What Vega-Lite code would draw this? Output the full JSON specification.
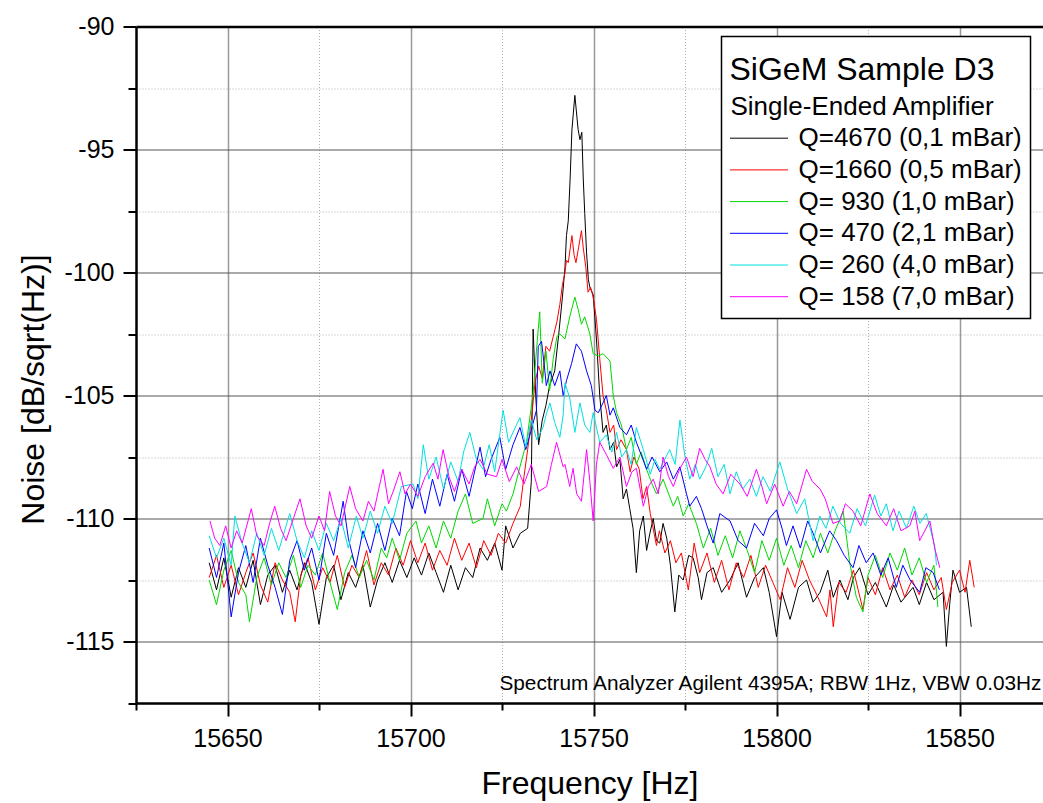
{
"$schema":"https://vega.github.io/schema/vega-lite/v6.json",
"width":907,"height":676.5,
"autosize":{"type":"none"},
"padding":{"left":136,"top":26.5,"right":0,"bottom":100},
"config":{"view":{"stroke":null},"font":"Liberation Sans","axis":{"labelFont":"Liberation Sans","titleFont":"Liberation Sans"},"legend":{"labelFont":"Liberation Sans","titleFont":"Liberation Sans"}},
"layer":[
{
"data":{"values":[
{"s":1,"f":15645,"v":-111.8},{"s":1,"f":15647,"v":-112.9},{"s":1,"f":15649,"v":-111.6},{"s":1,"f":15651,"v":-113.2},{"s":1,"f":15653,"v":-112.0},{"s":1,"f":15655,"v":-112.8},{"s":1,"f":15657,"v":-111.7},{"s":1,"f":15659,"v":-113.5},{"s":1,"f":15661,"v":-112.3},{"s":1,"f":15663,"v":-111.9},{"s":1,"f":15665,"v":-113.0},{"s":1,"f":15667,"v":-112.1},{"s":1,"f":15669,"v":-112.9},{"s":1,"f":15671,"v":-111.8},{"s":1,"f":15673,"v":-112.6},{"s":1,"f":15675,"v":-114.3},{"s":1,"f":15677,"v":-112.4},{"s":1,"f":15679,"v":-111.9},{"s":1,"f":15681,"v":-113.3},{"s":1,"f":15683,"v":-112.2},{"s":1,"f":15685,"v":-112.8},{"s":1,"f":15687,"v":-111.9},{"s":1,"f":15689,"v":-113.6},{"s":1,"f":15691,"v":-112.5},{"s":1,"f":15693,"v":-111.8},{"s":1,"f":15695,"v":-112.6},{"s":1,"f":15697,"v":-111.7},{"s":1,"f":15699,"v":-112.4},{"s":1,"f":15701,"v":-111.6},{"s":1,"f":15703,"v":-112.3},{"s":1,"f":15705,"v":-111.4},{"s":1,"f":15707,"v":-112.2},{"s":1,"f":15709,"v":-113.0},{"s":1,"f":15711,"v":-111.9},{"s":1,"f":15713,"v":-112.9},{"s":1,"f":15715,"v":-112.0},{"s":1,"f":15717,"v":-112.4},{"s":1,"f":15719,"v":-111.2},{"s":1,"f":15721,"v":-111.7},{"s":1,"f":15723,"v":-111.0},{"s":1,"f":15725,"v":-112.1},{"s":1,"f":15726,"v":-110.3},{"s":1,"f":15728,"v":-111.2},{"s":1,"f":15730,"v":-110.6},{"s":1,"f":15732,"v":-110.4},{"s":1,"f":15733,"v":-108.5},{"s":1,"f":15733.5,"v":-102.3},{"s":1,"f":15734.2,"v":-105.0},{"s":1,"f":15735,"v":-107.0},{"s":1,"f":15736,"v":-106.0},{"s":1,"f":15737,"v":-105.4},{"s":1,"f":15738,"v":-104.6},{"s":1,"f":15739.4,"v":-104.0},{"s":1,"f":15740.5,"v":-102.5},{"s":1,"f":15741.5,"v":-101.0},{"s":1,"f":15742.2,"v":-99.8},{"s":1,"f":15742.6,"v":-98.5},{"s":1,"f":15743.1,"v":-97.9},{"s":1,"f":15743.6,"v":-96.2},{"s":1,"f":15744.1,"v":-94.2},{"s":1,"f":15744.9,"v":-92.8},{"s":1,"f":15745.8,"v":-94.2},{"s":1,"f":15746.3,"v":-94.6},{"s":1,"f":15746.8,"v":-94.3},{"s":1,"f":15747.2,"v":-96.2},{"s":1,"f":15747.6,"v":-97.6},{"s":1,"f":15748.1,"v":-99.2},{"s":1,"f":15748.6,"v":-100.3},{"s":1,"f":15749,"v":-100.6},{"s":1,"f":15749.9,"v":-100.9},{"s":1,"f":15750.8,"v":-102.7},{"s":1,"f":15751.7,"v":-105.0},{"s":1,"f":15752.6,"v":-106.5},{"s":1,"f":15753.5,"v":-106.2},{"s":1,"f":15754.5,"v":-107.2},{"s":1,"f":15755.5,"v":-106.9},{"s":1,"f":15756.3,"v":-107.9},{"s":1,"f":15757.2,"v":-107.6},{"s":1,"f":15758.1,"v":-109.2},{"s":1,"f":15759,"v":-108.8},{"s":1,"f":15759.9,"v":-109.6},{"s":1,"f":15760.8,"v":-110.4},{"s":1,"f":15761.7,"v":-112.2},{"s":1,"f":15762.6,"v":-110.5},{"s":1,"f":15763.6,"v":-109.9},{"s":1,"f":15764.5,"v":-111.3},{"s":1,"f":15765.4,"v":-110.6},{"s":1,"f":15766.3,"v":-110.0},{"s":1,"f":15767.2,"v":-110.9},{"s":1,"f":15768.1,"v":-111.0},{"s":1,"f":15769,"v":-110.2},{"s":1,"f":15770,"v":-110.8},{"s":1,"f":15771,"v":-111.9},{"s":1,"f":15772.2,"v":-113.8},{"s":1,"f":15773.3,"v":-112.3},{"s":1,"f":15774.5,"v":-112.5},{"s":1,"f":15776,"v":-111.5},{"s":1,"f":15777.2,"v":-111.6},{"s":1,"f":15778.6,"v":-112.4},{"s":1,"f":15779.5,"v":-113.3},{"s":1,"f":15781,"v":-112.2},{"s":1,"f":15782.7,"v":-112.0},{"s":1,"f":15785,"v":-113.0},{"s":1,"f":15787.3,"v":-112.5},{"s":1,"f":15789.5,"v":-111.8},{"s":1,"f":15791.8,"v":-113.2},{"s":1,"f":15794,"v":-112.4},{"s":1,"f":15796.4,"v":-112.0},{"s":1,"f":15798,"v":-113.0},{"s":1,"f":15800,"v":-114.8},{"s":1,"f":15801.5,"v":-113.0},{"s":1,"f":15803.7,"v":-114.1},{"s":1,"f":15806,"v":-112.8},{"s":1,"f":15808.2,"v":-112.5},{"s":1,"f":15810,"v":-113.4},{"s":1,"f":15811.9,"v":-113.0},{"s":1,"f":15814,"v":-112.1},{"s":1,"f":15815.5,"v":-113.2},{"s":1,"f":15817.3,"v":-112.5},{"s":1,"f":15819.5,"v":-113.3},{"s":1,"f":15821,"v":-112.4},{"s":1,"f":15822.7,"v":-112.0},{"s":1,"f":15825,"v":-113.1},{"s":1,"f":15827,"v":-112.6},{"s":1,"f":15830,"v":-113.6},{"s":1,"f":15832,"v":-112.7},{"s":1,"f":15834,"v":-113.4},{"s":1,"f":15837.3,"v":-112.8},{"s":1,"f":15839,"v":-113.5},{"s":1,"f":15841,"v":-112.6},{"s":1,"f":15843,"v":-113.3},{"s":1,"f":15845.5,"v":-113.0},{"s":1,"f":15846.4,"v":-115.2},{"s":1,"f":15847.3,"v":-113.5},{"s":1,"f":15848.2,"v":-112.1},{"s":1,"f":15850,"v":-113.0},{"s":1,"f":15851.9,"v":-112.8},{"s":1,"f":15853.2,"v":-114.4},
{"s":2,"f":15645,"v":-112.4},{"s":2,"f":15647,"v":-111.5},{"s":2,"f":15649,"v":-112.8},{"s":2,"f":15651,"v":-111.9},{"s":2,"f":15653,"v":-113.1},{"s":2,"f":15655,"v":-112.2},{"s":2,"f":15657,"v":-111.4},{"s":2,"f":15659,"v":-112.7},{"s":2,"f":15661,"v":-113.4},{"s":2,"f":15663,"v":-111.8},{"s":2,"f":15665,"v":-112.5},{"s":2,"f":15667,"v":-113.0},{"s":2,"f":15668.5,"v":-114.2},{"s":2,"f":15670,"v":-112.3},{"s":2,"f":15672,"v":-111.6},{"s":2,"f":15674,"v":-112.9},{"s":2,"f":15676,"v":-112.0},{"s":2,"f":15678,"v":-112.6},{"s":2,"f":15680,"v":-111.5},{"s":2,"f":15682,"v":-112.8},{"s":2,"f":15684,"v":-111.9},{"s":2,"f":15686,"v":-112.4},{"s":2,"f":15688,"v":-111.3},{"s":2,"f":15690,"v":-112.7},{"s":2,"f":15692,"v":-111.8},{"s":2,"f":15694,"v":-112.3},{"s":2,"f":15696,"v":-111.2},{"s":2,"f":15698,"v":-111.9},{"s":2,"f":15700,"v":-110.9},{"s":2,"f":15702,"v":-111.8},{"s":2,"f":15704,"v":-111.0},{"s":2,"f":15706,"v":-112.1},{"s":2,"f":15708,"v":-111.3},{"s":2,"f":15710,"v":-111.9},{"s":2,"f":15712,"v":-110.8},{"s":2,"f":15714,"v":-111.7},{"s":2,"f":15716,"v":-111.0},{"s":2,"f":15718,"v":-112.0},{"s":2,"f":15720,"v":-110.9},{"s":2,"f":15722,"v":-111.5},{"s":2,"f":15724,"v":-110.6},{"s":2,"f":15726,"v":-111.0},{"s":2,"f":15728,"v":-110.2},{"s":2,"f":15730,"v":-109.5},{"s":2,"f":15731,"v":-108.3},{"s":2,"f":15732,"v":-107.2},{"s":2,"f":15733,"v":-106.0},{"s":2,"f":15734,"v":-104.5},{"s":2,"f":15735,"v":-103.8},{"s":2,"f":15736,"v":-104.3},{"s":2,"f":15737,"v":-103.0},{"s":2,"f":15738,"v":-103.2},{"s":2,"f":15739,"v":-102.6},{"s":2,"f":15740,"v":-102.0},{"s":2,"f":15740.8,"v":-101.3},{"s":2,"f":15741.5,"v":-100.5},{"s":2,"f":15742.2,"v":-100.0},{"s":2,"f":15742.6,"v":-99.5},{"s":2,"f":15743.1,"v":-99.6},{"s":2,"f":15744.1,"v":-98.5},{"s":2,"f":15744.7,"v":-99.3},{"s":2,"f":15745.2,"v":-99.6},{"s":2,"f":15745.9,"v":-99.0},{"s":2,"f":15746.7,"v":-98.3},{"s":2,"f":15747.2,"v":-99.0},{"s":2,"f":15747.9,"v":-99.8},{"s":2,"f":15748.5,"v":-100.8},{"s":2,"f":15749.2,"v":-100.6},{"s":2,"f":15749.9,"v":-101.0},{"s":2,"f":15750.8,"v":-101.9},{"s":2,"f":15751.7,"v":-103.5},{"s":2,"f":15752.6,"v":-105.0},{"s":2,"f":15753.5,"v":-105.6},{"s":2,"f":15754.5,"v":-106.5},{"s":2,"f":15755.5,"v":-106.2},{"s":2,"f":15756.3,"v":-107.2},{"s":2,"f":15757.5,"v":-106.8},{"s":2,"f":15759,"v":-107.2},{"s":2,"f":15760,"v":-108.1},{"s":2,"f":15761,"v":-107.5},{"s":2,"f":15762.5,"v":-108.0},{"s":2,"f":15763.5,"v":-109.2},{"s":2,"f":15764.5,"v":-108.7},{"s":2,"f":15765.5,"v":-109.8},{"s":2,"f":15767.2,"v":-111.1},{"s":2,"f":15768,"v":-110.5},{"s":2,"f":15769.5,"v":-111.4},{"s":2,"f":15771,"v":-110.9},{"s":2,"f":15772.5,"v":-111.8},{"s":2,"f":15774,"v":-111.4},{"s":2,"f":15775.9,"v":-112.9},{"s":2,"f":15777.5,"v":-111.0},{"s":2,"f":15779,"v":-112.2},{"s":2,"f":15781,"v":-111.4},{"s":2,"f":15783,"v":-112.6},{"s":2,"f":15785,"v":-111.7},{"s":2,"f":15787,"v":-112.9},{"s":2,"f":15789,"v":-111.8},{"s":2,"f":15791,"v":-112.4},{"s":2,"f":15793,"v":-111.5},{"s":2,"f":15795,"v":-112.8},{"s":2,"f":15797,"v":-111.9},{"s":2,"f":15799,"v":-112.6},{"s":2,"f":15801,"v":-113.3},{"s":2,"f":15803,"v":-112.0},{"s":2,"f":15805,"v":-112.8},{"s":2,"f":15807,"v":-111.7},{"s":2,"f":15809,"v":-112.5},{"s":2,"f":15811,"v":-113.1},{"s":2,"f":15813.7,"v":-114.0},{"s":2,"f":15814.6,"v":-112.9},{"s":2,"f":15815.5,"v":-114.4},{"s":2,"f":15817,"v":-112.6},{"s":2,"f":15819,"v":-113.0},{"s":2,"f":15821,"v":-112.1},{"s":2,"f":15823.6,"v":-113.7},{"s":2,"f":15825,"v":-112.4},{"s":2,"f":15827,"v":-113.1},{"s":2,"f":15829,"v":-112.0},{"s":2,"f":15831,"v":-112.9},{"s":2,"f":15833,"v":-112.3},{"s":2,"f":15835,"v":-113.2},{"s":2,"f":15837,"v":-112.5},{"s":2,"f":15839,"v":-113.1},{"s":2,"f":15841,"v":-112.2},{"s":2,"f":15843,"v":-112.9},{"s":2,"f":15845,"v":-112.4},{"s":2,"f":15846.4,"v":-113.7},{"s":2,"f":15848,"v":-112.6},{"s":2,"f":15850,"v":-112.1},{"s":2,"f":15851.5,"v":-113.0},{"s":2,"f":15852.8,"v":-111.7},{"s":2,"f":15854,"v":-112.8},
{"s":3,"f":15645,"v":-112.5},{"s":3,"f":15647,"v":-113.5},{"s":3,"f":15649,"v":-112.1},{"s":3,"f":15651,"v":-111.3},{"s":3,"f":15653,"v":-112.6},{"s":3,"f":15655,"v":-113.1},{"s":3,"f":15656,"v":-114.2},{"s":3,"f":15658,"v":-112.4},{"s":3,"f":15660,"v":-111.6},{"s":3,"f":15662,"v":-112.7},{"s":3,"f":15664,"v":-111.8},{"s":3,"f":15666,"v":-112.4},{"s":3,"f":15668,"v":-111.5},{"s":3,"f":15670,"v":-112.8},{"s":3,"f":15672,"v":-111.9},{"s":3,"f":15674,"v":-112.3},{"s":3,"f":15676,"v":-111.4},{"s":3,"f":15678,"v":-112.6},{"s":3,"f":15680,"v":-113.7},{"s":3,"f":15682,"v":-112.2},{"s":3,"f":15684,"v":-111.5},{"s":3,"f":15686,"v":-112.4},{"s":3,"f":15688,"v":-111.7},{"s":3,"f":15690,"v":-112.5},{"s":3,"f":15692,"v":-111.2},{"s":3,"f":15693.5,"v":-111.6},{"s":3,"f":15695,"v":-110.8},{"s":3,"f":15697,"v":-111.7},{"s":3,"f":15699,"v":-110.6},{"s":3,"f":15701.5,"v":-110.1},{"s":3,"f":15703,"v":-111.0},{"s":3,"f":15705,"v":-110.3},{"s":3,"f":15707,"v":-111.2},{"s":3,"f":15709,"v":-110.1},{"s":3,"f":15711,"v":-110.8},{"s":3,"f":15713,"v":-109.7},{"s":3,"f":15715,"v":-109.0},{"s":3,"f":15717,"v":-110.2},{"s":3,"f":15719.8,"v":-110.0},{"s":3,"f":15721,"v":-109.2},{"s":3,"f":15723,"v":-110.3},{"s":3,"f":15725,"v":-109.4},{"s":3,"f":15726.2,"v":-109.7},{"s":3,"f":15728,"v":-109.0},{"s":3,"f":15729.9,"v":-107.9},{"s":3,"f":15731.7,"v":-106.9},{"s":3,"f":15733.5,"v":-104.9},{"s":3,"f":15734.5,"v":-103.0},{"s":3,"f":15735.3,"v":-101.6},{"s":3,"f":15736,"v":-104.5},{"s":3,"f":15737,"v":-103.2},{"s":3,"f":15738,"v":-104.8},{"s":3,"f":15739,"v":-103.5},{"s":3,"f":15740,"v":-102.6},{"s":3,"f":15740.8,"v":-102.5},{"s":3,"f":15742.2,"v":-102.7},{"s":3,"f":15743.5,"v":-101.8},{"s":3,"f":15744.9,"v":-101.0},{"s":3,"f":15745.8,"v":-101.5},{"s":3,"f":15746.7,"v":-102.1},{"s":3,"f":15747.6,"v":-101.8},{"s":3,"f":15749,"v":-102.5},{"s":3,"f":15749.9,"v":-103.3},{"s":3,"f":15751.3,"v":-103.4},{"s":3,"f":15752.6,"v":-103.3},{"s":3,"f":15754.5,"v":-103.6},{"s":3,"f":15755.4,"v":-105.0},{"s":3,"f":15756.3,"v":-105.7},{"s":3,"f":15757.6,"v":-106.2},{"s":3,"f":15759,"v":-107.2},{"s":3,"f":15760.3,"v":-106.7},{"s":3,"f":15761.7,"v":-107.8},{"s":3,"f":15763,"v":-107.3},{"s":3,"f":15764.5,"v":-108.0},{"s":3,"f":15766,"v":-108.6},{"s":3,"f":15767.2,"v":-109.0},{"s":3,"f":15769,"v":-108.4},{"s":3,"f":15771.8,"v":-109.5},{"s":3,"f":15773,"v":-109.1},{"s":3,"f":15774.5,"v":-109.9},{"s":3,"f":15776,"v":-109.4},{"s":3,"f":15778.1,"v":-110.2},{"s":3,"f":15780,"v":-111.2},{"s":3,"f":15782,"v":-110.4},{"s":3,"f":15784,"v":-111.5},{"s":3,"f":15786,"v":-110.7},{"s":3,"f":15788,"v":-111.6},{"s":3,"f":15790,"v":-110.5},{"s":3,"f":15792,"v":-111.3},{"s":3,"f":15794,"v":-112.2},{"s":3,"f":15796,"v":-110.9},{"s":3,"f":15798,"v":-111.7},{"s":3,"f":15800,"v":-110.8},{"s":3,"f":15802,"v":-111.9},{"s":3,"f":15804,"v":-111.1},{"s":3,"f":15806,"v":-112.0},{"s":3,"f":15808,"v":-110.9},{"s":3,"f":15810,"v":-111.6},{"s":3,"f":15812,"v":-110.6},{"s":3,"f":15814,"v":-111.4},{"s":3,"f":15816,"v":-110.5},{"s":3,"f":15818.2,"v":-109.7},{"s":3,"f":15820,"v":-111.8},{"s":3,"f":15821.8,"v":-113.2},{"s":3,"f":15823.6,"v":-113.8},{"s":3,"f":15825,"v":-112.3},{"s":3,"f":15827,"v":-111.5},{"s":3,"f":15829,"v":-112.4},{"s":3,"f":15831,"v":-111.4},{"s":3,"f":15833,"v":-112.1},{"s":3,"f":15835,"v":-111.2},{"s":3,"f":15837,"v":-112.3},{"s":3,"f":15839,"v":-111.6},{"s":3,"f":15841,"v":-112.6},{"s":3,"f":15843,"v":-111.9},{"s":3,"f":15844.1,"v":-113.6},
{"s":4,"f":15645,"v":-111.2},{"s":4,"f":15647,"v":-112.4},{"s":4,"f":15649,"v":-111.0},{"s":4,"f":15651,"v":-114.0},{"s":4,"f":15653,"v":-112.2},{"s":4,"f":15655,"v":-111.1},{"s":4,"f":15657,"v":-112.6},{"s":4,"f":15659,"v":-110.8},{"s":4,"f":15661,"v":-111.9},{"s":4,"f":15663,"v":-112.8},{"s":4,"f":15665,"v":-113.9},{"s":4,"f":15667,"v":-111.7},{"s":4,"f":15669,"v":-110.9},{"s":4,"f":15671,"v":-112.1},{"s":4,"f":15673,"v":-111.2},{"s":4,"f":15675,"v":-112.5},{"s":4,"f":15677,"v":-110.6},{"s":4,"f":15679,"v":-111.5},{"s":4,"f":15681.6,"v":-109.3},{"s":4,"f":15683,"v":-110.8},{"s":4,"f":15685,"v":-112.0},{"s":4,"f":15687,"v":-110.5},{"s":4,"f":15689,"v":-111.4},{"s":4,"f":15691,"v":-110.2},{"s":4,"f":15693,"v":-111.3},{"s":4,"f":15695,"v":-110.0},{"s":4,"f":15697,"v":-110.7},{"s":4,"f":15698.9,"v":-108.9},{"s":4,"f":15700.5,"v":-109.6},{"s":4,"f":15702,"v":-108.6},{"s":4,"f":15704,"v":-109.8},{"s":4,"f":15706,"v":-108.4},{"s":4,"f":15708,"v":-109.5},{"s":4,"f":15710,"v":-108.2},{"s":4,"f":15712,"v":-109.3},{"s":4,"f":15714,"v":-108.0},{"s":4,"f":15716,"v":-109.1},{"s":4,"f":15719,"v":-107.1},{"s":4,"f":15720.5,"v":-108.3},{"s":4,"f":15722,"v":-107.6},{"s":4,"f":15724.4,"v":-106.7},{"s":4,"f":15726,"v":-108.0},{"s":4,"f":15728,"v":-107.0},{"s":4,"f":15729.9,"v":-106.3},{"s":4,"f":15731.5,"v":-107.2},{"s":4,"f":15733,"v":-106.4},{"s":4,"f":15734.4,"v":-105.6},{"s":4,"f":15734.9,"v":-103.0},{"s":4,"f":15735.8,"v":-102.8},{"s":4,"f":15736.7,"v":-104.0},{"s":4,"f":15737.1,"v":-104.6},{"s":4,"f":15738.1,"v":-104.0},{"s":4,"f":15739.4,"v":-104.6},{"s":4,"f":15740.8,"v":-104.0},{"s":4,"f":15741.7,"v":-105.0},{"s":4,"f":15742.6,"v":-104.4},{"s":4,"f":15744,"v":-103.7},{"s":4,"f":15745.3,"v":-102.9},{"s":4,"f":15746.7,"v":-103.2},{"s":4,"f":15748.1,"v":-104.0},{"s":4,"f":15749.4,"v":-104.6},{"s":4,"f":15750.4,"v":-105.6},{"s":4,"f":15751.3,"v":-105.7},{"s":4,"f":15752.6,"v":-105.3},{"s":4,"f":15753.5,"v":-105.0},{"s":4,"f":15754.5,"v":-105.8},{"s":4,"f":15755.4,"v":-105.5},{"s":4,"f":15757.2,"v":-106.3},{"s":4,"f":15759,"v":-106.6},{"s":4,"f":15760.3,"v":-106.2},{"s":4,"f":15761.7,"v":-106.9},{"s":4,"f":15763,"v":-107.4},{"s":4,"f":15764.5,"v":-108.0},{"s":4,"f":15766,"v":-107.5},{"s":4,"f":15768.1,"v":-108.1},{"s":4,"f":15770,"v":-107.7},{"s":4,"f":15771.8,"v":-108.4},{"s":4,"f":15773.6,"v":-107.9},{"s":4,"f":15775.4,"v":-109.0},{"s":4,"f":15776.3,"v":-109.5},{"s":4,"f":15778.1,"v":-109.1},{"s":4,"f":15779.5,"v":-109.6},{"s":4,"f":15781,"v":-110.3},{"s":4,"f":15782.7,"v":-111.0},{"s":4,"f":15784.5,"v":-109.8},{"s":4,"f":15787.3,"v":-110.1},{"s":4,"f":15789.5,"v":-110.9},{"s":4,"f":15791.8,"v":-111.2},{"s":4,"f":15794,"v":-110.2},{"s":4,"f":15796.4,"v":-110.7},{"s":4,"f":15798,"v":-110.0},{"s":4,"f":15800,"v":-109.65},{"s":4,"f":15801.5,"v":-110.4},{"s":4,"f":15802.7,"v":-111.1},{"s":4,"f":15804.5,"v":-110.3},{"s":4,"f":15806.5,"v":-111.2},{"s":4,"f":15808.5,"v":-110.1},{"s":4,"f":15810,"v":-110.6},{"s":4,"f":15812,"v":-111.4},{"s":4,"f":15814.5,"v":-110.5},{"s":4,"f":15816.4,"v":-110.9},{"s":4,"f":15818.5,"v":-111.5},{"s":4,"f":15820.9,"v":-112.0},{"s":4,"f":15822.5,"v":-111.1},{"s":4,"f":15824.5,"v":-111.8},{"s":4,"f":15826.4,"v":-111.4},{"s":4,"f":15828.5,"v":-112.3},{"s":4,"f":15830.5,"v":-111.6},{"s":4,"f":15832.7,"v":-112.8},{"s":4,"f":15834.5,"v":-111.9},{"s":4,"f":15836.5,"v":-112.5},{"s":4,"f":15839.1,"v":-113.0},{"s":4,"f":15840.8,"v":-112.0},{"s":4,"f":15842.8,"v":-112.2},{"s":4,"f":15844.5,"v":-112.9},
{"s":5,"f":15645,"v":-110.7},{"s":5,"f":15647,"v":-111.6},{"s":5,"f":15649,"v":-110.8},{"s":5,"f":15651,"v":-111.9},{"s":5,"f":15652,"v":-109.9},{"s":5,"f":15654,"v":-111.0},{"s":5,"f":15656,"v":-111.8},{"s":5,"f":15658,"v":-110.6},{"s":5,"f":15660,"v":-111.5},{"s":5,"f":15662,"v":-110.4},{"s":5,"f":15664,"v":-111.3},{"s":5,"f":15667,"v":-109.8},{"s":5,"f":15669,"v":-110.9},{"s":5,"f":15671,"v":-111.6},{"s":5,"f":15673,"v":-110.5},{"s":5,"f":15675,"v":-111.3},{"s":5,"f":15677,"v":-110.2},{"s":5,"f":15679,"v":-110.9},{"s":5,"f":15681,"v":-110.0},{"s":5,"f":15683,"v":-111.2},{"s":5,"f":15685.2,"v":-109.9},{"s":5,"f":15687,"v":-110.8},{"s":5,"f":15689,"v":-109.7},{"s":5,"f":15691,"v":-110.6},{"s":5,"f":15693,"v":-109.5},{"s":5,"f":15695,"v":-110.2},{"s":5,"f":15697.5,"v":-108.7},{"s":5,"f":15700.7,"v":-108.6},{"s":5,"f":15702,"v":-109.2},{"s":5,"f":15703.5,"v":-107.0},{"s":5,"f":15705,"v":-108.4},{"s":5,"f":15707,"v":-107.5},{"s":5,"f":15709,"v":-108.8},{"s":5,"f":15711,"v":-107.7},{"s":5,"f":15713,"v":-108.5},{"s":5,"f":15714.5,"v":-107.3},{"s":5,"f":15716.2,"v":-106.5},{"s":5,"f":15718,"v":-107.6},{"s":5,"f":15719.8,"v":-108.0},{"s":5,"f":15721.5,"v":-107.0},{"s":5,"f":15723,"v":-108.1},{"s":5,"f":15725.3,"v":-105.6},{"s":5,"f":15726.8,"v":-106.9},{"s":5,"f":15728.3,"v":-106.4},{"s":5,"f":15729.9,"v":-105.9},{"s":5,"f":15731.5,"v":-107.1},{"s":5,"f":15733,"v":-106.0},{"s":5,"f":15734.5,"v":-106.8},{"s":5,"f":15736.2,"v":-106.3},{"s":5,"f":15737.2,"v":-105.7},{"s":5,"f":15738.1,"v":-105.3},{"s":5,"f":15739.4,"v":-106.1},{"s":5,"f":15740.8,"v":-106.7},{"s":5,"f":15741.7,"v":-105.8},{"s":5,"f":15742.2,"v":-104.5},{"s":5,"f":15743.5,"v":-105.1},{"s":5,"f":15744.9,"v":-106.5},{"s":5,"f":15746.3,"v":-105.3},{"s":5,"f":15747.6,"v":-106.2},{"s":5,"f":15749,"v":-106.5},{"s":5,"f":15749.9,"v":-105.7},{"s":5,"f":15751.7,"v":-106.9},{"s":5,"f":15753.5,"v":-106.6},{"s":5,"f":15755,"v":-107.3},{"s":5,"f":15756.3,"v":-106.5},{"s":5,"f":15757.7,"v":-107.5},{"s":5,"f":15759,"v":-107.2},{"s":5,"f":15760.3,"v":-107.8},{"s":5,"f":15761.7,"v":-106.3},{"s":5,"f":15763.6,"v":-107.2},{"s":5,"f":15765.5,"v":-108.2},{"s":5,"f":15766.8,"v":-107.6},{"s":5,"f":15768.1,"v":-108.0},{"s":5,"f":15770.8,"v":-107.2},{"s":5,"f":15772.3,"v":-107.8},{"s":5,"f":15773.6,"v":-106.0},{"s":5,"f":15775,"v":-107.5},{"s":5,"f":15776.3,"v":-108.4},{"s":5,"f":15777.8,"v":-107.8},{"s":5,"f":15779,"v":-108.4},{"s":5,"f":15780.7,"v":-107.9},{"s":5,"f":15782.3,"v":-107.15},{"s":5,"f":15784,"v":-108.3},{"s":5,"f":15785.7,"v":-107.8},{"s":5,"f":15787.3,"v":-109.0},{"s":5,"f":15789,"v":-108.1},{"s":5,"f":15790.8,"v":-108.8},{"s":5,"f":15792.7,"v":-108.4},{"s":5,"f":15794.5,"v":-109.1},{"s":5,"f":15796.3,"v":-108.3},{"s":5,"f":15798.3,"v":-108.9},{"s":5,"f":15800.9,"v":-107.7},{"s":5,"f":15803,"v":-108.8},{"s":5,"f":15805.5,"v":-109.8},{"s":5,"f":15807.7,"v":-109.2},{"s":5,"f":15810,"v":-110.9},{"s":5,"f":15811.8,"v":-109.9},{"s":5,"f":15813.5,"v":-110.4},{"s":5,"f":15815.4,"v":-109.5},{"s":5,"f":15817.5,"v":-110.2},{"s":5,"f":15820,"v":-110.6},{"s":5,"f":15822,"v":-109.6},{"s":5,"f":15824.3,"v":-110.3},{"s":5,"f":15826.8,"v":-109.05},{"s":5,"f":15828.5,"v":-109.9},{"s":5,"f":15830,"v":-109.4},{"s":5,"f":15831.8,"v":-110.5},{"s":5,"f":15833.5,"v":-109.7},{"s":5,"f":15835.5,"v":-110.4},{"s":5,"f":15837.5,"v":-109.5},{"s":5,"f":15839.2,"v":-110.2},{"s":5,"f":15840.9,"v":-109.8},{"s":5,"f":15843.2,"v":-111.1},{"s":5,"f":15843.7,"v":-111.9},
{"s":6,"f":15645.2,"v":-110.1},{"s":6,"f":15646.5,"v":-110.8},{"s":6,"f":15647.9,"v":-111.1},{"s":6,"f":15649.5,"v":-110.3},{"s":6,"f":15651,"v":-111.2},{"s":6,"f":15652.5,"v":-110.5},{"s":6,"f":15654,"v":-111.0},{"s":6,"f":15656.5,"v":-109.6},{"s":6,"f":15658,"v":-110.7},{"s":6,"f":15660,"v":-111.1},{"s":6,"f":15661.5,"v":-110.2},{"s":6,"f":15662.9,"v":-109.5},{"s":6,"f":15664.5,"v":-110.4},{"s":6,"f":15666,"v":-110.9},{"s":6,"f":15668,"v":-110.0},{"s":6,"f":15669.8,"v":-109.2},{"s":6,"f":15671.5,"v":-110.3},{"s":6,"f":15673,"v":-110.8},{"s":6,"f":15675,"v":-109.9},{"s":6,"f":15676.5,"v":-110.5},{"s":6,"f":15677.9,"v":-108.9},{"s":6,"f":15679.5,"v":-109.9},{"s":6,"f":15681,"v":-110.3},{"s":6,"f":15683.4,"v":-108.7},{"s":6,"f":15685,"v":-109.6},{"s":6,"f":15687,"v":-110.1},{"s":6,"f":15688.5,"v":-109.3},{"s":6,"f":15690,"v":-109.7},{"s":6,"f":15692.5,"v":-108.0},{"s":6,"f":15694,"v":-109.4},{"s":6,"f":15695.5,"v":-108.8},{"s":6,"f":15697.1,"v":-108.1},{"s":6,"f":15698.5,"v":-109.0},{"s":6,"f":15700,"v":-108.6},{"s":6,"f":15702,"v":-109.1},{"s":6,"f":15704,"v":-108.3},{"s":6,"f":15706.2,"v":-107.75},{"s":6,"f":15707.5,"v":-108.4},{"s":6,"f":15708.9,"v":-107.2},{"s":6,"f":15710.5,"v":-108.3},{"s":6,"f":15712,"v":-108.9},{"s":6,"f":15714,"v":-108.0},{"s":6,"f":15716,"v":-108.6},{"s":6,"f":15717.5,"v":-107.9},{"s":6,"f":15719,"v":-107.6},{"s":6,"f":15721,"v":-108.2},{"s":6,"f":15723.5,"v":-108.3},{"s":6,"f":15725,"v":-107.6},{"s":6,"f":15727,"v":-108.5},{"s":6,"f":15729,"v":-107.9},{"s":6,"f":15731,"v":-108.6},{"s":6,"f":15733,"v":-107.8},{"s":6,"f":15735,"v":-108.9},{"s":6,"f":15737.2,"v":-108.7},{"s":6,"f":15738.5,"v":-107.8},{"s":6,"f":15739.9,"v":-106.9},{"s":6,"f":15741.7,"v":-107.9},{"s":6,"f":15742.2,"v":-107.8},{"s":6,"f":15743.5,"v":-108.7},{"s":6,"f":15744.4,"v":-107.96},{"s":6,"f":15745.4,"v":-109.0},{"s":6,"f":15746.7,"v":-109.3},{"s":6,"f":15748.1,"v":-107.2},{"s":6,"f":15749,"v":-108.5},{"s":6,"f":15749.9,"v":-110.1},{"s":6,"f":15750.8,"v":-107.8},{"s":6,"f":15751.7,"v":-106.9},{"s":6,"f":15753.5,"v":-107.4},{"s":6,"f":15755.4,"v":-107.96},{"s":6,"f":15757.2,"v":-107.5},{"s":6,"f":15759,"v":-108.7},{"s":6,"f":15760.5,"v":-108.1},{"s":6,"f":15761.7,"v":-107.96},{"s":6,"f":15763.6,"v":-109.5},{"s":6,"f":15765,"v":-108.7},{"s":6,"f":15766.3,"v":-108.4},{"s":6,"f":15767.7,"v":-109.0},{"s":6,"f":15769,"v":-107.5},{"s":6,"f":15770.5,"v":-108.3},{"s":6,"f":15771.8,"v":-108.7},{"s":6,"f":15773.5,"v":-108.0},{"s":6,"f":15775.4,"v":-107.5},{"s":6,"f":15777.2,"v":-108.3},{"s":6,"f":15779,"v":-107.15},{"s":6,"f":15780.5,"v":-107.6},{"s":6,"f":15781.8,"v":-107.9},{"s":6,"f":15783.5,"v":-108.6},{"s":6,"f":15785.4,"v":-109.0},{"s":6,"f":15787.5,"v":-108.2},{"s":6,"f":15790,"v":-108.6},{"s":6,"f":15792,"v":-109.1},{"s":6,"f":15794.5,"v":-108.0},{"s":6,"f":15796,"v":-108.7},{"s":6,"f":15797.3,"v":-109.4},{"s":6,"f":15799.5,"v":-108.6},{"s":6,"f":15801.8,"v":-109.5},{"s":6,"f":15803.5,"v":-108.9},{"s":6,"f":15805.5,"v":-109.4},{"s":6,"f":15808.2,"v":-108.0},{"s":6,"f":15809.8,"v":-108.5},{"s":6,"f":15811.9,"v":-108.8},{"s":6,"f":15813.3,"v":-109.2},{"s":6,"f":15815.4,"v":-110.2},{"s":6,"f":15817.3,"v":-110.1},{"s":6,"f":15818.8,"v":-109.4},{"s":6,"f":15820.9,"v":-109.7},{"s":6,"f":15823,"v":-110.3},{"s":6,"f":15825.5,"v":-109.0},{"s":6,"f":15827.5,"v":-109.8},{"s":6,"f":15830,"v":-110.3},{"s":6,"f":15832,"v":-109.6},{"s":6,"f":15834,"v":-110.5},{"s":6,"f":15836.4,"v":-110.3},{"s":6,"f":15837.8,"v":-109.7},{"s":6,"f":15839.1,"v":-110.9},{"s":6,"f":15841.9,"v":-110.1},{"s":6,"f":15843.2,"v":-111.2},{"s":6,"f":15844.6,"v":-112.0}
]},
"mark":{"type":"line","strokeWidth":1,"clip":true},
"encoding":{
"x":{"field":"f","type":"quantitative","scale":{"domain":[15625,15872.8],"nice":false,"zero":false},
 "axis":{"values":[15625,15650,15675,15700,15725,15750,15775,15800,15825,15850],
  "labelExpr":"datum.value % 50 === 0 ? '' + datum.value : ''","labelFontSize":25,"labelColor":"#000","labelPadding":10,"labelFlush":false,"labelOverlap":false,
  "title":"Frequency [Hz]","titleFontSize":32,"titleFontWeight":"normal","titleColor":"#000","titlePadding":17,
  "domainColor":"#000","domainWidth":2.5,"tickColor":"#000","tickWidth":2,
  "tickSize":{"condition":{"test":"datum.value % 50 === 0","value":13},"value":7},
  "grid":true,
  "gridColor":{"condition":{"test":"datum.value % 50 === 0","value":"#999999"},"value":"#b0b0b0"},
  "gridDash":{"condition":{"test":"datum.value % 50 === 0","value":[]},"value":[1,2]},
  "gridWidth":{"condition":{"test":"datum.value % 50 === 0","value":1.5},"value":1}}},
"y":{"field":"v","type":"quantitative","scale":{"domain":[-117.5,-90],"nice":false,"zero":false},
 "axis":{"values":[-117.5,-115,-112.5,-110,-107.5,-105,-102.5,-100,-97.5,-95,-92.5,-90],
  "labelExpr":"datum.value % 5 === 0 ? '' + datum.value : ''","labelFontSize":25,"labelColor":"#000","labelPadding":9,"labelFlush":false,"labelOverlap":false,
  "title":"Noise [dB/sqrt(Hz)]","titleFontSize":32,"titleFontWeight":"normal","titleColor":"#000","titlePadding":13,"titleY":362.5,
  "domainColor":"#000","domainWidth":2.5,"tickColor":"#000","tickWidth":2,
  "tickSize":{"condition":{"test":"datum.value % 5 === 0","value":13},"value":8},
  "grid":true,
  "gridColor":{"condition":[{"test":"datum.value === -90","value":"#000000"},{"test":"datum.value % 5 === 0","value":"#555555"}],"value":"#b0b0b0"},
  "gridDash":{"condition":{"test":"datum.value % 5 === 0","value":[]},"value":[1,2]},
  "gridWidth":{"condition":[{"test":"datum.value === -90","value":2.5},{"test":"datum.value % 5 === 0","value":1}],"value":1}}},
"color":{"field":"s","type":"nominal",
 "scale":{"domain":[0,1,2,3,4,5,6],"range":["transparent","#000000","#ff0000","#00d800","#0000ff","#00e0e0","#ff00ff"]},
 "legend":{"orient":"none","legendX":585.5,"legendY":10,
  "title":"SiGeM Sample D3","titleFontSize":32,"titleFontWeight":"normal","titleColor":"#000","titlePadding":16,"titleLimit":500,
  "labelFontSize":26,"labelColor":"#000","labelOffset":10,"labelLimit":500,
  "labelExpr":"['Single-Ended Amplifier','Q=4670 (0,1 mBar)','Q=1660 (0,5 mBar)','Q= 930 (1,0 mBar)','Q= 470 (2,1 mBar)','Q= 260 (4,0 mBar)','Q= 158 (7,0 mBar)'][datum.value]",
  "symbolType":"stroke","symbolSize":3364,"symbolStrokeWidth":1,
  "rowPadding":4.7,"padding":8,"strokeColor":"#000","fillColor":"#fff",
  "encode":{"legend":{"update":{"strokeWidth":{"value":1.5}}},
   "title":{"update":{"dy":{"value":10}}},
   "symbols":{"update":{"y":{"value":14}}},
   "labels":{"update":{"y":{"value":14},"dx":{"signal":"datum.index === 0 ? -68 : 0"}}}}}}
}
},
{
"data":{"values":[{}]},
"mark":{"type":"text","align":"right","baseline":"alphabetic","fontSize":20.8,"font":"Liberation Sans","color":"#000"},
"encoding":{"x":{"datum":15872.4,"type":"quantitative"},"y":{"datum":-116.97,"type":"quantitative"},"text":{"value":"Spectrum Analyzer Agilent 4395A; RBW 1Hz, VBW 0.03Hz"}}
}
]
}
